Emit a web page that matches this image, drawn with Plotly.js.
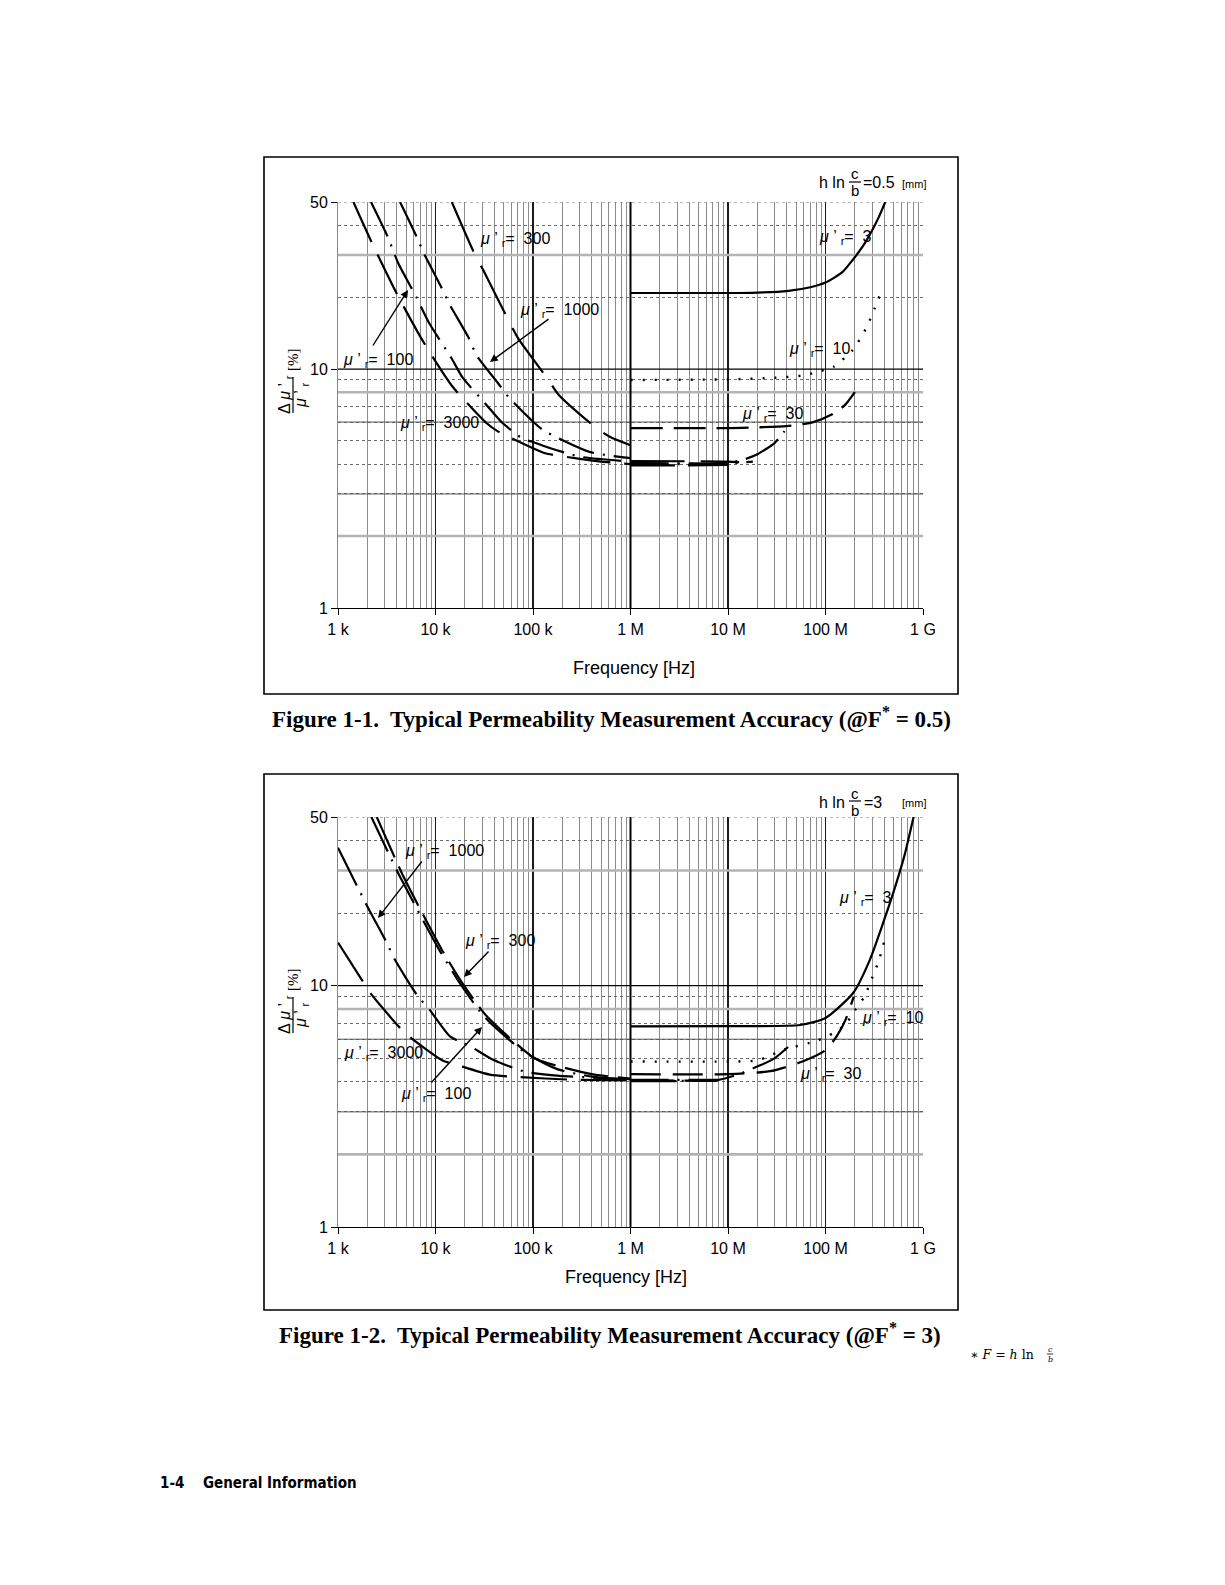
<!DOCTYPE html>
<html><head><meta charset="utf-8">
<script src="https://cdn.plot.ly/plotly-3.0.1.min.js"></script>
<style>html,body{margin:0;padding:0;background:#fff}#chart{width:1225px;height:1585px}</style>
</head><body><div id="chart"></div>
<script>
// ================= DATA =================
// Axis ticks
const decadeVals = [1e3, 1e4, 1e5, 1e6, 1e7, 1e8, 1e9];
const decadeLabels = ['1 k', '10 k', '100 k', '1 M', '10 M', '100 M', '1 G'];
const yTickVals = [1, 10, 50];
const yTickLabels = ['1', '10', '50'];
const yMinorVals = [2, 3, 4, 5, 6, 7, 8, 9, 20, 30, 40];

// ---- Figure 1-1 (F* = 0.5), frequency [Hz] / accuracy [%] ----
const f1_mu3 = [1e6, 1e7, 2e7, 4e7, 7e7, 1e8, 1.5e8, 1.9e8, 2.4e8, 2.9e8, 3.5e8, 4.1e8];
const v1_mu3 = [20.8, 20.8, 20.9, 21.2, 22, 23, 25.5, 28.6, 32.5, 37, 43, 50];
const f1_mu10 = [1e6, 1e7, 3e7, 6e7, 8e7, 1.2e8, 1.9e8, 2.65e8, 3.2e8, 3.8e8];
const v1_mu10 = [9.0, 9.05, 9.2, 9.4, 9.7, 10.2, 12, 15, 18, 21.5];
const f1_mu30 = [1e6, 1e7, 2e7, 4e7, 7.5e7, 1.2e8, 1.6e8, 2e8];
const v1_mu30 = [5.66, 5.66, 5.7, 5.77, 6.0, 6.5, 7.1, 8.0];
const f1_mu100_lo = [2.18e3, 3.23e3, 4.15e3, 6.4e3, 8.66e3, 1.46e4, 1.9e4, 3.35e4, 4.75e4, 7.9e4, 1e5, 1.38e5, 3e5, 1e6];
const v1_mu100_lo = [50, 35.8, 27.7, 19.9, 15.5, 11.1, 9.2, 7.06, 6.0, 5.1, 4.95, 4.72, 4.3, 4.1];
const f1_mu100_hi = [1e6, 5e6, 1e7, 1.5e7, 2e7, 3e7, 3.8e7];
const v1_mu100_hi = [4.0, 4.0, 4.05, 4.2, 4.4, 4.9, 5.5];
const f1_mu300_lo = [1.47e4, 2.5e4, 3.05e4, 5.6e4, 7.07e4, 1.44e5, 1.82e5, 4.5e5, 6.2e5, 1e6];
const v1_mu300_lo = [50, 30.5, 26.2, 16, 13.4, 9.0, 7.83, 5.65, 5.2, 4.8];
const f1_mu300_hi = [1e6, 1e7, 1.3e7];
const v1_mu300_hi = [4.12, 4.1, 4.08];
const f1_mu1000_lo = [4.33e3, 6.4e3, 7.67e3, 1.16e4, 1.41e4, 2.17e4, 2.64e4, 4.4e4, 5.58e4, 9.3e4, 1.27e5, 3.8e5, 1e6];
const v1_mu1000_lo = [50, 35.8, 30.3, 21.8, 18.5, 13.6, 11.4, 8.7, 7.65, 6.2, 5.55, 4.5, 4.24];
const f1_mu1000_hi = [1e6, 1e7, 1.8e7];
const v1_mu1000_hi = [4.05, 4.03, 4.1];
const f1_mu3000_lo = [1.44e3, 2.2e3, 4e3, 7.5e3, 1.5e4, 3.35e4, 4.4e4, 1e5, 1.33e5, 3.16e5, 5e5, 1e6];
const v1_mu3000_lo = [50, 34.1, 20.7, 13, 8.43, 5.93, 5.47, 4.66, 4.44, 4.2, 4.1, 4.0];
const f1_mu3000_hi = [1e6, 3e6, 1e7];
const v1_mu3000_hi = [3.95, 3.95, 3.97];

// ---- Figure 1-2 (F* = 3) ----
const f2_mu3 = [1e6, 1e7, 5.5e7, 1e8, 1.93e8, 2.85e8, 3.9e8, 5.2e8, 6.5e8, 8e8];
const v2_mu3 = [6.78, 6.8, 6.87, 7.35, 9.35, 12.8, 18.2, 25.8, 35, 50];
const f2_mu10 = [1e6, 1e7, 2e7, 3.7e7, 8e7, 1.2e8, 1.6e8, 2e8, 2.5e8, 3.1e8, 3.5e8, 4e8];
const v2_mu10 = [4.85, 4.85, 4.9, 5.42, 5.9, 6.36, 6.9, 7.9, 9.0, 11.1, 12.6, 15.2];
const f2_mu30 = [1e6, 1e7, 2.7e7, 5.8e7, 1e8, 1.3e8, 1.6e8, 1.95e8];
const v2_mu30 = [4.3, 4.3, 4.42, 4.85, 5.4, 6.16, 7.2, 9.0];
const f2_mu100_lo = [2.2e3, 4.3e3, 1.1e4, 1.85e4, 3.2e4, 8.2e4, 1.8e5, 4e5, 1e6];
const v2_mu100_lo = [50, 28.4, 14.0, 10.0, 7.4, 5.3, 4.5, 4.2, 4.05];
const f2_mu100_hi = [1e6, 7.7e6];
const v2_mu100_hi = [4.07, 4.07];
const f2_mu300_lo = [2.5e3, 4.68e3, 1.16e4, 1.93e4, 3.36e4, 1.04e5, 1.89e5, 4e5, 1e6];
const v2_mu300_lo = [50, 28.4, 14.1, 10.1, 7.47, 5.0, 4.62, 4.3, 4.12];
const f2_mu300_hi = [1e6, 7.7e6];
const v2_mu300_hi = [4.04, 4.04];
const f2_mu1000_lo = [1e3, 2.0e3, 3.1e3, 3.84e3, 6.4e3, 8.8e3, 1.41e4, 1.9e4, 2.34e4, 3.9e4, 8.3e4, 1.88e5, 1e6];
const v2_mu1000_lo = [37.3, 21.3, 15.3, 12.8, 9.2, 7.9, 6.16, 5.8, 5.57, 4.93, 4.4, 4.23, 4.1];
const f2_mu1000_hi = [1e6, 8e6, 1.3e7, 2.2e7, 3e7, 4.2e7];
const v2_mu1000_hi = [4.05, 4.07, 4.3, 4.7, 5.0, 5.6];
const f2_mu3000_lo = [1e3, 1.8e3, 2.16e3, 4.15e3, 5.4e3, 1.18e4, 1.65e4, 3.6e4, 7.3e4, 2.4e5, 1e6];
const v2_mu3000_lo = [15.1, 10.4, 9.3, 6.8, 6.15, 4.9, 4.7, 4.28, 4.18, 4.08, 4.05];
const f2_mu3000_hi = [1e6, 7.7e6];
const v2_mu3000_hi = [4.02, 4.03];

// ================= BUILD =================
const W = 1225, H = 1585;
const px = x => x / W, py = y => 1 - y / H;
const SANS = 'Liberation Sans, Arial, Helvetica, sans-serif';
const SERIF = 'Liberation Serif, Times New Roman, serif';

function join(lx, ly, hx, hy) {
  if (!hx) return [lx, ly];
  return [lx.concat([null], hx), ly.concat([null], hy)];
}
function curve(xs, ys, ax, dash, width) {
  return {type: 'scatter', mode: 'lines', x: xs, y: ys, xaxis: ax[0], yaxis: ax[1],
    connectgaps: false, hoverinfo: 'skip', showlegend: false,
    line: {color: '#000', width: width || 2, dash: dash, shape: 'spline', smoothing: 0.6}};
}
const DASHDOT = '38px,9px,2px,9px';
const traces = [];
const A1 = ['x', 'y'], A2 = ['x2', 'y2'];
let d;
traces.push(curve(f1_mu3, v1_mu3, A1, 'solid', 2.2));
traces.push(curve(f1_mu10, v1_mu10, A1, '2px,10px', 2.4));
traces.push(curve(f1_mu30, v1_mu30, A1, '32px,11px', 2.3));
d = join(f1_mu100_lo, v1_mu100_lo, f1_mu100_hi, v1_mu100_hi); traces.push(curve(d[0], d[1], A1, DASHDOT, 2.2));
d = join(f1_mu300_lo, v1_mu300_lo, f1_mu300_hi, v1_mu300_hi); traces.push(curve(d[0], d[1], A1, '54px,16px', 2.2));
d = join(f1_mu1000_lo, v1_mu1000_lo, f1_mu1000_hi, v1_mu1000_hi); traces.push(curve(d[0], d[1], A1, DASHDOT, 2.2));
d = join(f1_mu3000_lo, v1_mu3000_lo, f1_mu3000_hi, v1_mu3000_hi); traces.push(curve(d[0], d[1], A1, '44px,14px', 2.2));

traces.push(curve(f2_mu3, v2_mu3, A2, 'solid', 2.2));
traces.push(curve(f2_mu10, v2_mu10, A2, '2px,10px', 2.4));
traces.push(curve(f2_mu30, v2_mu30, A2, '30px,12px', 2.3));
d = join(f2_mu100_lo, v2_mu100_lo, f2_mu100_hi, v2_mu100_hi); traces.push(curve(d[0], d[1], A2, DASHDOT, 2.2));
d = join(f2_mu300_lo, v2_mu300_lo, f2_mu300_hi, v2_mu300_hi); traces.push(curve(d[0], d[1], A2, '44px,10px', 2.2));
d = join(f2_mu1000_lo, v2_mu1000_lo, f2_mu1000_hi, v2_mu1000_hi); traces.push(curve(d[0], d[1], A2, '42px,9px,2px,9px', 2.2));
d = join(f2_mu3000_lo, v2_mu3000_lo, f2_mu3000_hi, v2_mu3000_hi); traces.push(curve(d[0], d[1], A2, '46px,14px', 2.2));

// minor x grid positions (2..9 per decade)
const xMinor = [];
for (let e = 3; e < 9; e++) for (let k = 2; k <= 9; k++) xMinor.push(k * Math.pow(10, e));

function xAxis(anchor) {
  return {type: 'log', range: [3, 9], domain: [px(338), px(923)], anchor: anchor,
    tickmode: 'array', tickvals: decadeVals, ticktext: decadeLabels,
    tickfont: {family: SANS, size: 16, color: '#000'},
    ticks: 'outside', ticklen: 6, tickcolor: '#000', tickwidth: 1,
    showgrid: true, gridcolor: '#1a1a1a', gridwidth: 1.2,
    showline: true, linecolor: '#000', linewidth: 1.3, zeroline: false, mirror: false,
    minor: {tickvals: xMinor, showgrid: true, gridcolor: '#8c8c8c', gridwidth: 1, ticks: ''},
    fixedrange: true};
}
function yAxis(anchor, top, bottom) {
  return {type: 'log', range: [0, Math.log10(50)], domain: [py(bottom), py(top)], anchor: anchor,
    tickmode: 'array', tickvals: yTickVals, ticktext: yTickLabels,
    tickfont: {family: SANS, size: 16, color: '#000'},
    ticks: 'outside', ticklen: 6, tickcolor: '#000', tickwidth: 1,
    showgrid: false, showline: true, linecolor: '#888', linewidth: 1, zeroline: false,
    minor: {tickvals: yMinorVals, showgrid: true, gridcolor: '#6a6a6a', gridwidth: 1, griddash: 'dot', ticks: ''},
    fixedrange: true};
}

const shapes = [];
function hgrid(yref, xref, v, color, width, dash) {
  shapes.push({type: 'line', xref: xref, yref: yref, x0: 1e3, x1: 1e9, y0: v, y1: v,
    line: {color: color, width: width, dash: dash || 'solid'}, layer: 'between'});
}
[['y', 'x'], ['y2', 'x2']].forEach(([yr, xr]) => {
  [2, 8, 30].forEach(v => hgrid(yr, xr, v, '#b4b4b4', 2.6));
  [3, 6].forEach(v => hgrid(yr, xr, v, '#555', 1));
  hgrid(yr, xr, 10, '#000', 1.2);
  hgrid(yr, xr, 50, '#777', 1, 'dot');
  shapes.push({type: 'line', xref: xr, yref: yr, x0: 1e6, x1: 1e6, y0: 1, y1: 50,
    line: {color: '#000', width: 2}, layer: 'between'});
});
function rect(x0, y0, x1, y1) {
  shapes.push({type: 'rect', xref: 'paper', yref: 'paper', x0: px(x0), x1: px(x1), y0: py(y1), y1: py(y0),
    line: {color: '#000', width: 1.6}, fillcolor: 'rgba(0,0,0,0)', layer: 'above'});
}
function pline(x0, y0, x1, y1, w) {
  shapes.push({type: 'line', xref: 'paper', yref: 'paper', x0: px(x0), x1: px(x1), y0: py(y0), y1: py(y1),
    line: {color: '#000', width: w || 1.2}, layer: 'above'});
}
rect(264, 157, 958, 694);
rect(264, 774, 958, 1310);

const annotations = [];
function txt(x, y, text, o) {
  o = o || {};
  annotations.push(Object.assign({xref: 'paper', yref: 'paper', x: px(x), y: py(y), text: text,
    showarrow: false, xanchor: 'left', yanchor: 'middle',
    font: {family: SANS, size: 16, color: '#000'}}, o));
}
function arrow(tx, ty, hx, hy) {
  annotations.push({xref: 'paper', yref: 'paper', x: px(hx), y: py(hy), ax: tx - hx, ay: ty - hy,
    text: '', showarrow: true, arrowhead: 2, arrowsize: 1.1, arrowwidth: 1.4, arrowcolor: '#000', standoff: 0});
}
const mu = n => '<i>μ</i> \u2019 <sub>r</sub>=  ' + n;

// Figure 1 labels
txt(478, 240, mu(300));
txt(518, 310, mu(1000));
txt(341, 360, mu(100));
txt(398, 423, mu(3000));
txt(817, 237, mu(3));
txt(787, 350, mu(10));
txt(740, 415, mu(30));
arrow(550, 318, 490, 362);
arrow(372, 347, 408, 290);
// Figure 2 labels
txt(403, 851, mu(1000));
txt(463, 942, mu(300));
txt(342, 1053, mu(3000));
txt(399, 1094, mu(100));
txt(837, 898, mu(3));
txt(860, 1019, mu(10));
txt(798, 1074, mu(30));
arrow(423, 860, 378, 918);
arrow(490, 950, 464, 977);
arrow(430, 1084, 482, 1027);

// h ln c/b labels
function hln(yc, cx, val, valx) {
  txt(817, yc, 'h ln', {font: {family: SANS, size: 16, color: '#000'}});
  txt(cx, yc - 9, 'c', {xanchor: 'center', font: {family: SANS, size: 15, color: '#000'}});
  txt(cx, yc + 8, 'b', {xanchor: 'center', font: {family: SANS, size: 15, color: '#000'}});
  pline(cx - 6, yc - 1, cx + 6, yc - 1, 1.2);
  txt(valx, yc, val, {font: {family: SANS, size: 16, color: '#000'}});
  txt(900, yc + 1, '[mm]', {font: {family: SANS, size: 11, color: '#000'}});
}
hln(183, 855, '=0.5', 861);
hln(802, 855, '=3', 862);

// y-axis titles (rotated fraction)
function ytitle(yc, yp) {
  txt(285, yc, 'Δ <i>μ</i> \u2019 <sub>r</sub>', {xanchor: 'center', textangle: -90});
  pline(293, yc - 18, 293, yc + 18, 1.2);
  txt(301, yc, '<i>μ</i> \u2019 <sub>r</sub>', {xanchor: 'center', textangle: -90});
  txt(293, yp, '[%]', {xanchor: 'center', textangle: -90, font: {family: SERIF, size: 15, color: '#000'}});
}
ytitle(395, 360);
ytitle(1015, 980);

// x-axis titles
txt(634, 668, 'Frequency [Hz]', {xanchor: 'center', font: {family: SANS, size: 18, color: '#000'}});
txt(626, 1277, 'Frequency [Hz]', {xanchor: 'center', font: {family: SANS, size: 18, color: '#000'}});

// captions
txt(611, 718, '<b>Figure 1-1.  Typical Permeability Measurement Accuracy (@F<sup>*</sup> = 0.5)</b>',
  {xanchor: 'center', font: {family: SERIF, size: 23, color: '#000'}});
txt(610, 1334, '<b>Figure 1-2.  Typical Permeability Measurement Accuracy (@F<sup>*</sup> = 3)</b>',
  {xanchor: 'center', font: {family: SERIF, size: 23, color: '#000'}});
// footnote
txt(968, 1354, '∗ <i>F</i> = <i>h</i> ln', {font: {family: 'DejaVu Serif, serif', size: 12.5, color: '#000'}});
txt(1050, 1349, '<i>c</i>', {xanchor: 'center', font: {family: 'DejaVu Serif, serif', size: 8, color: '#000'}});
txt(1050, 1359, '<i>b</i>', {xanchor: 'center', font: {family: 'DejaVu Serif, serif', size: 8, color: '#000'}});
pline(1047, 1354, 1053, 1354, 0.8);
// page footer
const NARROW = 'Liberation Sans Narrow, DejaVu Sans Condensed, Arial Narrow, sans-serif';
txt(158, 1483, '<b>1-4</b>', {font: {family: NARROW, size: 15, color: '#000'}});
txt(201, 1483, '<b>General Information</b>', {font: {family: NARROW, size: 15, color: '#000'}});

const layout = {
  width: W, height: H, margin: {l: 0, r: 0, t: 0, b: 0},
  paper_bgcolor: '#fff', plot_bgcolor: '#fff', showlegend: false,
  xaxis: xAxis('y'), yaxis: yAxis('x', 202, 608),
  xaxis2: xAxis('y2'), yaxis2: yAxis('x2', 817, 1227),
  shapes: shapes, annotations: annotations
};
Plotly.newPlot('chart', traces, layout, {staticPlot: true, displayModeBar: false});
</script></body></html>
